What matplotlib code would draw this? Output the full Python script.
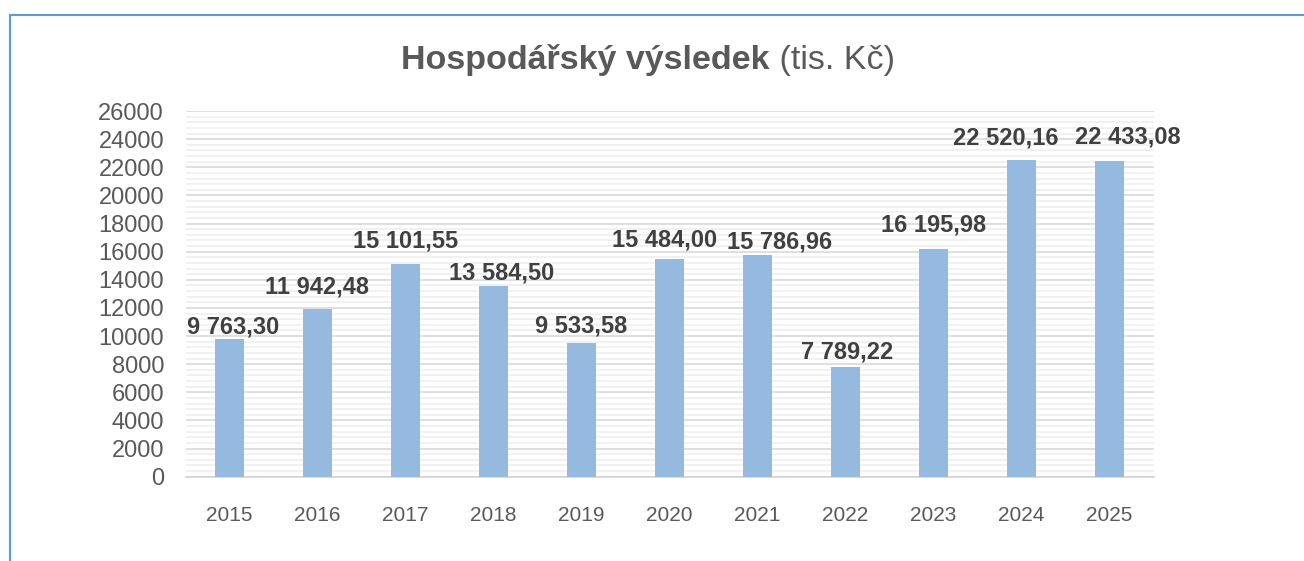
import matplotlib
matplotlib.use("Agg")
import matplotlib.pyplot as plt
from matplotlib.lines import Line2D
from matplotlib.ticker import MultipleLocator

years = ["2015", "2016", "2017", "2018", "2019", "2020",
         "2021", "2022", "2023", "2024", "2025"]
values = [9763.30, 11942.48, 15101.55, 13584.50, 9533.58, 15484.00,
          15786.96, 7789.22, 16195.98, 22520.16, 22433.08]

# label offsets in pixels (x, y above bar top)
label_dx = [4, -1, 0, 8, 0, -5, 22, 2, 0, -16, 18]
label_dy = [6, 15, 17, 6, 10, 12, 6, 9, 17, 15, 18]

plt.rcParams['font.family'] = ['Liberation Sans', 'DejaVu Sans']


def czech(v):
  return f"{v:,.2f}".replace(",", " ").replace(".", ",")


def main():
  fig = plt.figure(figsize=(13.04, 5.61), dpi=100)
  ax = fig.add_axes([0.1423, 0.1503, 0.7423, 0.6518])

  x = range(len(years))
  ax.bar(x, values, width=0.335, color="#96B9DF", zorder=3)

  for i, v in enumerate(values):
    ax.annotate(czech(v), xy=(i, v),
                xytext=(label_dx[i] * 0.72, label_dy[i] * 0.72),
                textcoords="offset points", ha="center", va="baseline",
                fontsize=17, fontweight="bold", color="#404040", zorder=4)

  ax.set_xlim(-0.5, len(years) - 0.5)
  ax.set_ylim(0, 26000)
  ax.set_xticks(list(x))
  ax.set_xticklabels(years)
  ax.yaxis.set_major_locator(MultipleLocator(2000))
  ax.yaxis.set_minor_locator(MultipleLocator(400))

  ax.tick_params(axis="y", which="both", length=0, pad=15.5,
                 labelsize=17, labelcolor="#595959")
  ax.tick_params(axis="x", length=0, pad=21, labelsize=15,
                 labelcolor="#595959")

  ax.set_axisbelow(True)
  ax.yaxis.grid(True, which="major", color="#D9D9D9", linewidth=1.2)
  ax.yaxis.grid(True, which="minor", color="#EFEFEF", linewidth=1.2)
  for s in ["top", "right", "left"]:
    ax.spines[s].set_visible(False)
  ax.spines["bottom"].set_color("#D4D4D4")
  ax.spines["bottom"].set_linewidth(1.2)

  t1 = fig.text(401 / 1304, 1 - 69 / 561, "Hospodářský výsledek",
                fontsize=24.5, fontweight="bold", color="#595959",
                ha="left", va="baseline")
  ax.annotate(" (tis. Kč)", xy=(1, 0), xycoords=t1, ha="left", va="bottom",
              fontsize=24.5, color="#595959", annotation_clip=False)

  # blue frame of the chart area
  x0 = 9.5 / 1304
  y0 = 1 - 15 / 561
  fig.add_artist(Line2D([x0, 1], [y0, y0], color="#5B9BD5", linewidth=1.5))
  fig.add_artist(Line2D([x0, x0], [0, y0], color="#5B9BD5", linewidth=1.5))

  fig.savefig("out.png", dpi=100)


main()
